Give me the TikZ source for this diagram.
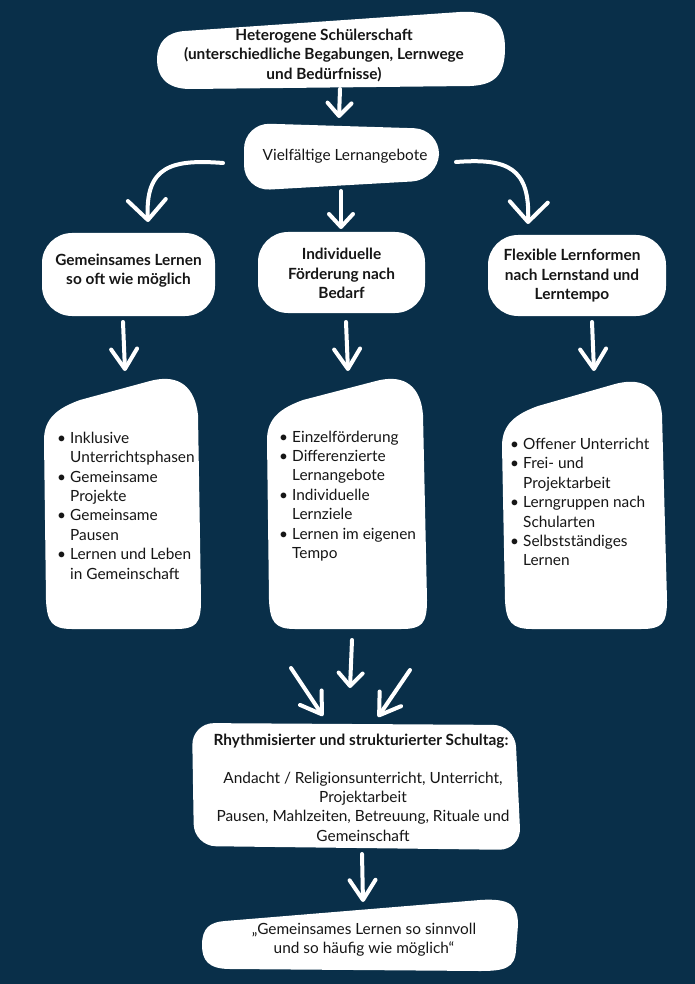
\documentclass[tikz,border=0pt]{standalone}
\usepackage{fontspec}
\setmainfont{Lato}
\usetikzlibrary{arrows.meta}
\definecolor{bg}{RGB}{9,47,73}
\definecolor{ink}{RGB}{22,22,22}
\tikzset{
  blob/.style={fill=white, rounded corners=#1},
  blob/.default=26pt,
  harrow/.style={draw=white, line width=4pt, line cap=round, line join=round,
    -{Straight Barb[length=13pt,width=24pt,round]}},
  bigarrow/.style={harrow, -{Straight Barb[length=20pt,width=26pt,round]}},
  curvearrow/.style={harrow, -{Straight Barb[length=20pt,width=38pt,round]}},
  headtxt/.style={text=ink, align=center, font=\bfseries\fontsize{15.4}{19.5}\selectfont, inner sep=0pt},
  bodytxt/.style={text=ink, align=center, font=\fontsize{15.4}{19.3}\selectfont, inner sep=0pt},
  listtxt/.style={text=ink, align=left, font=\fontsize{15.4}{19.4}\selectfont, inner sep=0pt, anchor=west},
}
\newcommand{\bul}{\makebox[13pt][l]{\textbullet}}
\newcommand{\nob}{\hspace*{13pt}}
\begin{document}
\begin{tikzpicture}[x=1pt,y=-1pt]
\fill[bg] (0,0) rectangle (695,984);
\useasboundingbox (0,0) rectangle (695,984);

% blobs
\fill[white] (185,31) -- (460,12) .. controls (495,10) and (505,25) .. (505,48)
  .. controls (505,75) and (495,85) .. (470,86) -- (190,89)
  .. controls (165,89) and (157,75) .. (157,60) .. controls (157,42) and (167,32) .. (185,31) -- cycle;
\fill[blob=26pt] (244,123) -- (440,129) -- (438,180) -- (244,191) -- cycle;
\fill[blob=30pt] (42,233) -- (215,233) -- (215,316) -- (42,316) -- cycle;
\fill[blob=30pt] (258,232) -- (425,232) -- (425,313) -- (258,313) -- cycle;
\fill[blob=30pt] (488,235) -- (666,235) -- (666,316) -- (488,316) -- cycle;
% big blobs
\fill[white] (44,440) .. controls (44,418) and (58,408) .. (80,400) -- (150,381)
  .. controls (180,373) and (195,388) .. (198,415) -- (201,600)
  .. controls (201,624) and (196,629) .. (175,629) -- (72,629)
  .. controls (52,629) and (47,622) .. (46,600) -- cycle;
\fill[white] (267,440) .. controls (267,418) and (281,408) .. (303,400) -- (376,381)
  .. controls (406,373) and (421,388) .. (423,415) -- (427,600)
  .. controls (427,624) and (422,629) .. (401,629) -- (295,629)
  .. controls (275,629) and (270,622) .. (269,600) -- cycle;
\fill[white] (502,446) .. controls (502,424) and (516,414) .. (538,406) -- (615,384)
  .. controls (645,376) and (660,390) .. (662,415) -- (667,600)
  .. controls (667,624) and (662,629) .. (641,629) -- (532,629)
  .. controls (512,629) and (506,622) .. (505,600) -- cycle;
\fill[blob=22pt] (192,723) -- (515,725) -- (521,850) -- (194,846) -- cycle;
\fill[white] (225,921) -- (480,900) .. controls (510,898) and (518,905) .. (518,925)
  -- (516,950) .. controls (515,968) and (505,971) .. (480,971) -- (230,969)
  .. controls (208,969) and (202,960) .. (202,945) .. controls (202,928) and (210,922) .. (225,921) -- cycle;

% texts
\node[headtxt] (top) at (324,55) {Heterogene Schülerschaft\\(unterschiedliche Begabungen, Lernwege\\und Bedürfnisse)};
\node[bodytxt] (vielf) at (345,156) {Vielfältige Lernangebote};
\node[headtxt] (h1) at (128.5,270.5) {Gemeinsames Lernen\\so oft wie möglich};
\node[headtxt] (h2) at (341.5,273.5) {Individuelle\\Förderung nach\\Bedarf};
\node[headtxt] (h3) at (572,276) {Flexible Lernformen\\nach Lernstand und\\Lerntempo};
\node[listtxt] (l1) at (57,505.5) {\bul Inklusive\\\nob Unterrichtsphasen\\\bul Gemeinsame\\\nob Projekte\\\bul Gemeinsame\\\nob Pausen\\\bul Lernen und Leben\\\nob in Gemeinschaft};
\node[listtxt] (l2) at (279,496) {\bul Einzelförderung\\\bul Differenzierte\\\nob Lernangebote\\\bul Individuelle\\\nob Lernziele\\\bul Lernen im eigenen\\\nob Tempo};
\node[listtxt] (l3) at (510,502) {\bul Offener Unterricht\\\bul Frei- und\\\nob Projektarbeit\\\bul Lerngruppen nach\\\nob Schularten\\\bul Selbstständiges\\\nob Lernen};
\node[headtxt] (st) at (361,741) {Rhythmisierter und strukturierter Schultag:};
\node[bodytxt] (stb) at (363,806.5) {Andacht / Religionsunterricht, Unterricht,\\Projektarbeit\\Pausen, Mahlzeiten, Betreuung, Rituale und\\Gemeinschaft};
\node[bodytxt] (fin) at (364,940) {„Gemeinsames Lernen so sinnvoll\\und so häufig wie möglich“};

% arrow ends
\coordinate (a0s) at (340,89);   \coordinate (a0e) at (339,118);
\coordinate (aLs) at (223,163);  \coordinate (aLe) at (148,222);
\coordinate (aMs) at (341,191);  \coordinate (aMe) at (341,229);
\coordinate (aRs) at (456,162);  \coordinate (aRe) at (528,224);
\coordinate (b1s) at (123,322);  \coordinate (b1e) at (125,371);
\coordinate (b2s) at (346,322);  \coordinate (b2e) at (348,371);
\coordinate (b3s) at (592,322);  \coordinate (b3e) at (594,371);
\coordinate (cMs) at (352,640);  \coordinate (cMe) at (350,688);
\coordinate (cLs) at (291,668);  \coordinate (cLe) at (323,716);
\coordinate (cRs) at (410,670);  \coordinate (cRe) at (378,717);
\coordinate (ds) at (362,854);   \coordinate (de) at (363,902);

\draw[harrow] (a0s) -- (a0e);
\draw[curvearrow] (aLs) .. controls (172,159) and (145,166) .. (aLe);
\draw[harrow] (aMs) -- (aMe);
\draw[curvearrow] (aRs) .. controls (508,158) and (530,168) .. (aRe);
\draw[bigarrow] (b1s) -- (b1e);
\draw[bigarrow] (b2s) -- (b2e);
\draw[bigarrow] (b3s) -- (b3e);
\draw[harrow] (cMs) -- (cMe);
\draw[bigarrow] (cLs) -- (cLe);
\draw[bigarrow] (cRs) -- (cRe);
\draw[bigarrow] (ds) -- (de);
\end{tikzpicture}
\end{document}
